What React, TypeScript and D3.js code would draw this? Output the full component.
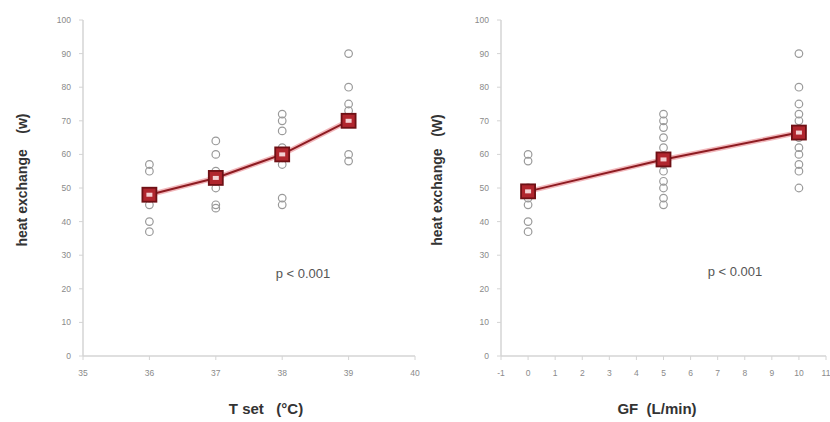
import React from 'react'
import * as d3 from 'd3'

// left panel: T set
const tsetLevels = [36, 37, 38, 39]
const tsetMeans = [48, 53, 60, 70]
const tsetPoints = [
  [57, 55, 49, 47, 45, 40, 37],
  [64, 60, 55, 52, 50, 45, 44],
  [72, 70, 67, 62, 59, 57, 47, 45],
  [90, 80, 75, 73, 70, 60, 58],
]
const tsetTicks = [35, 36, 37, 38, 39, 40]

// right panel: GF
const gfLevels = [0, 5, 10]
const gfMeans = [49, 58.5, 66.5]
const gfPoints = [
  [60, 58, 50, 47, 45, 40, 37],
  [72, 70, 68, 65, 62, 57, 55, 52, 50, 47, 45],
  [90, 80, 75, 72, 70, 65, 62, 60, 57, 55, 50],
]
const gfTicks = [-1, 0, 1, 2, 3, 4, 5, 6, 7, 8, 9, 10, 11]

const yTicks = [0, 10, 20, 30, 40, 50, 60, 70, 80, 90, 100]

const font = "'Liberation Sans', Arial, sans-serif"

type PanelProps = {
  levels: number[]
  means: number[]
  points: number[][]
  xTicks: number[]
  x0: number
  x1: number
  xTitle: string
  xTitleX: number
  yTitle: string
  yTitleX: number
  pX: number
  pY: number
}

const Panel = (p: PanelProps) => {
  const y = d3.scaleLinear().domain([0, 100]).range([356, 20])
  const x = d3.scaleLinear()
    .domain([p.xTicks[0], p.xTicks[p.xTicks.length - 1]])
    .range([p.x0, p.x1])
  const line = d3.line<number>()
    .x((d, i) => x(p.levels[i]))
    .y(d => y(d))
  const path = line(p.means) || ''
  const axisColor = '#d4d4d4'
  return (
    <g>
      {/* y axis */}
      <line x1={p.x0} x2={p.x0} y1={y(100)} y2={y(0)} stroke={axisColor} strokeWidth={1.5} />
      {yTicks.map(t => (
        <g key={'y' + t}>
          <line x1={p.x0 - 4} x2={p.x0} y1={y(t)} y2={y(t)} stroke={axisColor} />
          <text x={p.x0 - 12} y={y(t)} dy="0.35em" textAnchor="end" fontSize={8.5} fill="#8a8a8a">{t}</text>
        </g>
      ))}
      {/* x axis */}
      <line x1={p.x0} x2={p.x1} y1={y(0)} y2={y(0)} stroke={axisColor} strokeWidth={1.5} />
      {p.xTicks.map(t => (
        <g key={'x' + t}>
          <line x1={x(t)} x2={x(t)} y1={y(0)} y2={y(0) + 4} stroke={axisColor} />
          <text x={x(t)} y={y(0) + 20} textAnchor="middle" fontSize={8.5} fill="#8a8a8a">{t}</text>
        </g>
      ))}
      {/* individual points */}
      {p.points.map((vals, i) =>
        vals.map((v, j) => (
          <circle key={i + '-' + j} cx={x(p.levels[i])} cy={y(v)} r={3.8}
            fill="none" stroke="#9a9a9a" strokeWidth={1.2} />
        ))
      )}
      {/* mean line */}
      <path d={path} fill="none" stroke="#f2b8bc" strokeWidth={5} />
      <path d={path} fill="none" stroke="#8e1c22" strokeWidth={2} />
      {p.means.map((m, i) => (
        <g key={'m' + i}>
          <rect x={x(p.levels[i]) - 7} y={y(m) - 7} width={14} height={14}
            fill="#b0262e" stroke="#6e1015" strokeWidth={1.8} />
          <rect x={x(p.levels[i]) - 3} y={y(m) - 2} width={6} height={4} fill="#f4d0d2" />
        </g>
      ))}
      <text x={p.pX} y={p.pY} fontSize={13} fill="#555" textAnchor="middle">p &lt; 0.001</text>
      <text x={p.xTitleX} y={414} fontSize={15} fontWeight="bold" fill="#333" textAnchor="middle"
        style={{ whiteSpace: 'pre' }}>{p.xTitle}</text>
      <text transform={`translate(${p.yTitleX},${180}) rotate(-90)`} fontSize={14} fontWeight="bold"
        fill="#333" textAnchor="middle" dy="0.35em" style={{ whiteSpace: 'pre' }}>{p.yTitle}</text>
    </g>
  )
}

const App = () => {
  return (
    <svg width={830} height={422} style={{ position: 'absolute', left: 0, top: 0, background: '#fff', fontFamily: font }}>
      <Panel levels={tsetLevels} means={tsetMeans} points={tsetPoints} xTicks={tsetTicks}
        x0={83} x1={415} xTitle={'T set   (°C)'} xTitleX={266}
        yTitle={'heat exchange    (w)'} yTitleX={22} pX={303} pY={278} />
      <Panel levels={gfLevels} means={gfMeans} points={gfPoints} xTicks={gfTicks}
        x0={501} x1={826} xTitle={'GF  (L/min)'} xTitleX={657}
        yTitle={'heat exchange   (W)'} yTitleX={437} pX={735} pY={276} />
    </svg>
  )
}

export default App
